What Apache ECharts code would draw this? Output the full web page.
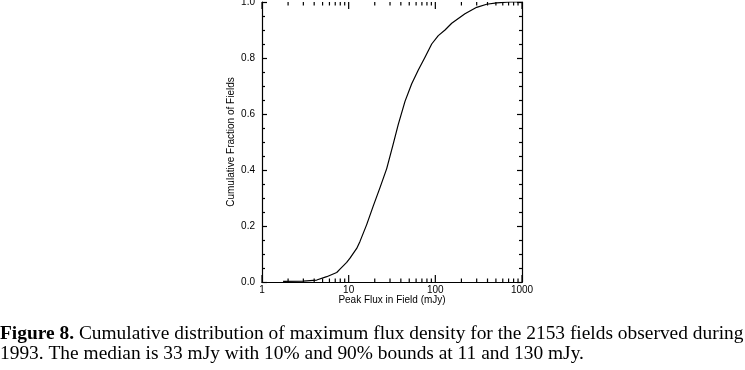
<!DOCTYPE html>
<html>
<head>
<meta charset="utf-8">
<script src="https://cdn.jsdelivr.net/npm/echarts@6/dist/echarts.min.js"></script>
<style>
html,body{margin:0;padding:0;background:#fff;}
#chart{width:745px;height:370px;}
</style>
</head>
<body>
<div id="chart"></div>
<script>
// Peak flux in field (mJy) and cumulative fraction of fields
const flux = [1.75, 3.0, 4.28, 5.58, 7.28, 7.94, 9.49, 10.36, 12.38, 13.51, 16.14, 19.24, 22.99, 27.47, 32.47, 37.37, 44.67, 53.38, 63.6, 76.0, 90.8, 108.2, 129.3, 154.5, 219.8, 300, 391, 510, 727, 1000];
const frac = [0.002, 0.003, 0.007, 0.019, 0.034, 0.046, 0.07, 0.085, 0.12, 0.145, 0.205, 0.272, 0.337, 0.405, 0.49, 0.563, 0.645, 0.708, 0.757, 0.803, 0.85, 0.88, 0.9, 0.924, 0.958, 0.981, 0.992, 0.997, 1.0, 1.0];
const xMajorTicks = [1, 10, 100, 1000];
const xMinorTicks = [2,3,4,5,6,7,8,9,20,30,40,50,60,70,80,90,200,300,400,500,600,700,800,900];
const xTitle = 'Peak Flux in Field (mJy)';
const yTitle = 'Cumulative Fraction of Fields';
const captionBold = 'Figure 8.';
const captionLine1 = ' Cumulative distribution of maximum flux density for the 2153 fields observed during';
const captionLine2 = '1993. The median is 33 mJy with 10% and 90% bounds at 11 and 130 mJy.';

const serif = '"Liberation Serif", "Times New Roman", serif';
const sans = '"Liberation Sans", Arial, sans-serif';

// fit caption font so line 1 spans the width
const cv = document.createElement('canvas').getContext('2d');
function lineWidth(s){
  cv.font = 'bold ' + s + 'px ' + serif;
  let w = cv.measureText(captionBold).width;
  cv.font = s + 'px ' + serif;
  w += cv.measureText(captionLine1).width;
  return w;
}
const capSize = 20 * 744 / lineWidth(20);

const chart = echarts.init(document.getElementById('chart'), null, {renderer:'canvas'});
const axisCommon = {
  type: 'log', logBase: 10, min: 1, max: 1000, gridIndex: 0,
  axisLine: {show: true, lineStyle: {color: '#000', width: 1.2}},
  splitLine: {show: false},
  minorTick: {show: false},
  axisTick: {show: false}
};
const lineStyle = {color:'#000', width:1.2};
const tickSeries = (values, len) => ({
  type: 'custom', xAxisIndex: 0, yAxisIndex: 0,
  data: values.map(v => [v]),
  silent: true, clip: false,
  renderItem: function(params, api){
    const v = api.value(0);
    const b = api.coord([v, 0]);
    const t = api.coord([v, 1]);
    const st = {stroke:'#000', lineWidth: 1.2};
    return {type:'group', children:[
      {type:'line', shape:{x1:b[0], y1:b[1], x2:b[0], y2:b[1]-len}, style: st},
      {type:'line', shape:{x1:t[0], y1:t[1], x2:t[0], y2:t[1]+len}, style: st}
    ]};
  }
});
const option = {
  animation: false,
  backgroundColor: '#fff',
  grid: {left: 262, right: 223, top: 2, bottom: 88, containLabel: false, outerBoundsMode: 'none'},
  xAxis: [
    Object.assign({}, axisCommon, {
      position: 'bottom',
      axisLabel: {show: true, color: '#000', fontSize: 10, fontFamily: sans, margin: 3,
        formatter: v => String(Math.round(v))},
      name: xTitle, nameLocation: 'middle', nameGap: 13.5, nameMoveOverlap: false,
      nameTextStyle: {color:'#000', fontSize: 10, fontFamily: sans, verticalAlign: 'top'}
    }),
    Object.assign({}, axisCommon, {
      position: 'top',
      axisLabel: {show: false}
    })
  ],
  yAxis: [
    {
      type: 'value', min: 0, max: 1, interval: 0.2, position: 'left',
      axisLine: {show: true, lineStyle: {color:'#000', width: 1.2}},
      axisTick: {show: true, inside: true, length: 5, lineStyle: lineStyle},
      minorTick: {show: true, splitNumber: 4, length: 3, lineStyle: {color:'#000', width: 1.2}},
      splitLine: {show: false},
      axisLabel: {color:'#000', fontSize: 10, fontFamily: sans, margin: 7, formatter: v => v.toFixed(1)},
      name: yTitle, nameLocation: 'middle', nameGap: 26, nameMoveOverlap: false,
      nameTextStyle: {color:'#000', fontSize: 10, fontFamily: sans}
    },
    {
      type: 'value', min: 0, max: 1, interval: 0.2, position: 'right',
      axisLine: {show: true, lineStyle: {color:'#000', width: 1.2}},
      axisTick: {show: true, inside: true, length: 5, lineStyle: lineStyle},
      minorTick: {show: true, splitNumber: 4, length: 3, lineStyle: {color:'#000', width: 1.2}},
      splitLine: {show: false},
      axisLabel: {show: false}
    }
  ],
  series: [
    {
      type: 'line', xAxisIndex: 0, yAxisIndex: 0,
      data: flux.map((f, i) => [f, frac[i]]),
      showSymbol: false, symbol: 'none',
      lineStyle: {color:'#000', width: 1.2},
      z: 5
    },
    tickSeries(xMinorTicks, 3.5),
    tickSeries(xMajorTicks, 7)
  ],
  graphic: [
    {
      type: 'text', left: 0, top: 341.7 - capSize*0.89,
      style: {
        text: '{b|' + captionBold + '}' + captionLine1,
        font: capSize + 'px ' + serif,
        fill: '#000',
        rich: {b: {fontWeight: 'bold', fontSize: capSize, fontFamily: serif, fill:'#000'}}
      }
    },
    {
      type: 'text', left: 0, top: 361.7 - capSize*0.89,
      style: {
        text: captionLine2,
        font: capSize + 'px ' + serif,
        fill: '#000'
      }
    }
  ]
};
chart.setOption(option);
</script>
</body>
</html>
